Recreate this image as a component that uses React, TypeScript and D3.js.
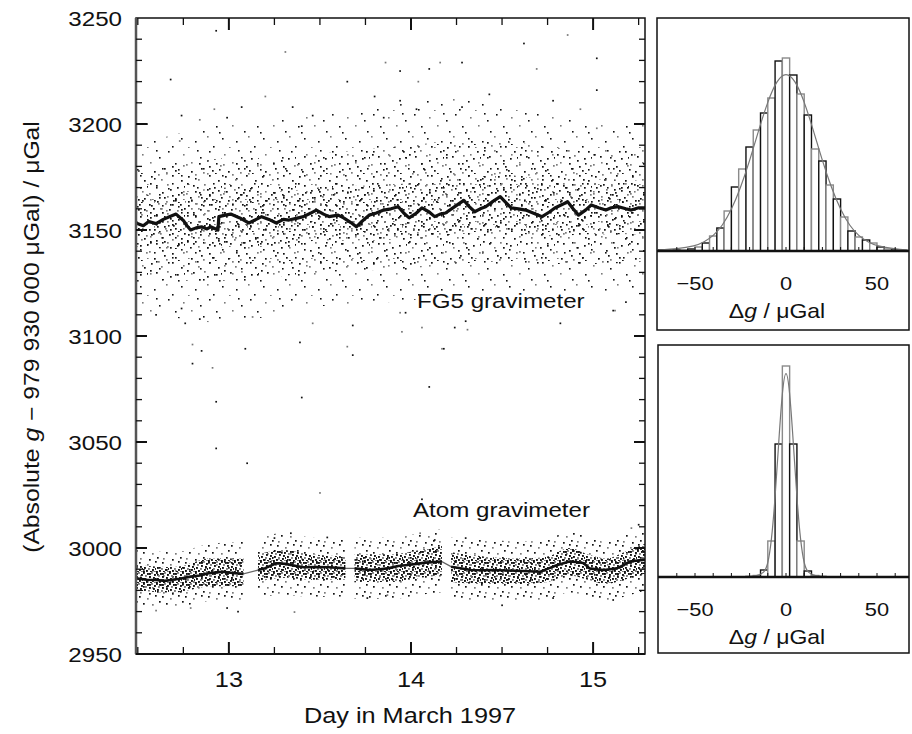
import * as d3 from 'd3';
import React from 'react';

// ---- main panel data (day in March 1997, µGal above 979 930 000) ----
const yTickLabels = [2950, 3000, 3050, 3100, 3150, 3200, 3250];
const xTickLabels = [13, 14, 15];

// running mean of the FG5 record
const fg5Mean: [number, number][] = [
  [12.49, 3153.3], [12.53, 3152], [12.56, 3154], [12.6, 3153], [12.64, 3155], [12.68, 3156.5], [12.71, 3157.5],
  [12.75, 3154.5], [12.77, 3152], [12.79, 3150], [12.82, 3151], [12.85, 3151.5], [12.88, 3150.5], [12.9, 3151.5],
  [12.94, 3150], [12.945, 3156.3], [12.98, 3157], [13.01, 3157.5], [13.06, 3155.7], [13.11, 3153.3], [13.15, 3155],
  [13.18, 3156.3], [13.22, 3155], [13.26, 3153.3], [13.3, 3155], [13.33, 3154.7], [13.37, 3155.5], [13.41, 3156.3],
  [13.45, 3158], [13.48, 3159.4], [13.52, 3157.5], [13.55, 3156.3], [13.6, 3157], [13.63, 3155.7], [13.67, 3153.5],
  [13.7, 3151.5], [13.73, 3154], [13.77, 3157], [13.81, 3158], [13.85, 3159.4], [13.89, 3160], [13.93, 3161],
  [13.96, 3158], [13.99, 3155.7], [14.03, 3158], [14.06, 3160.4], [14.1, 3158.5], [14.13, 3156.3], [14.16, 3157.5],
  [14.19, 3158], [14.24, 3161], [14.29, 3164], [14.32, 3161], [14.35, 3158.6], [14.38, 3160], [14.41, 3161],
  [14.45, 3163.5], [14.49, 3165.7], [14.52, 3163], [14.55, 3160.4], [14.59, 3160], [14.63, 3159.4], [14.67, 3158],
  [14.72, 3156.3], [14.76, 3158.5], [14.79, 3160.4], [14.83, 3162], [14.86, 3163.4], [14.89, 3160], [14.92, 3157],
  [14.96, 3159.5], [14.99, 3161.8], [15.03, 3160.5], [15.07, 3159.4], [15.1, 3160.5], [15.14, 3161], [15.18, 3160],
  [15.21, 3159.4], [15.25, 3160.5], [15.285, 3160.4],
];

// spread of the FG5 cloud: [day, low, high], densest to sparsest
const fg5Core: [number, number, number][] = [
  [12.49, 3142, 3166], [12.75, 3141, 3168], [13.0, 3142, 3170], [13.25, 3142, 3168], [13.5, 3145, 3170],
  [13.75, 3145, 3171], [14.0, 3146, 3172], [14.25, 3148, 3174], [14.5, 3149, 3176], [14.75, 3147, 3174],
  [15.0, 3148, 3174], [15.285, 3148, 3173],
];
const fg5Mid: [number, number, number][] = [
  [12.49, 3128, 3178], [12.75, 3126, 3181], [13.0, 3126, 3184], [13.25, 3128, 3184], [13.5, 3130, 3186],
  [13.75, 3131, 3188], [14.0, 3132, 3190], [14.25, 3134, 3192], [14.5, 3135, 3192], [14.75, 3134, 3189],
  [15.0, 3134, 3188], [15.285, 3135, 3188],
];
const fg5Outer: [number, number, number][] = [
  [12.49, 3112, 3190], [12.75, 3108, 3196], [13.0, 3106, 3200], [13.25, 3110, 3202], [13.5, 3114, 3204],
  [13.75, 3115, 3207], [14.0, 3117, 3210], [14.25, 3119, 3212], [14.5, 3120, 3210], [14.75, 3120, 3204],
  [15.0, 3121, 3201], [15.285, 3122, 3200],
];
const fg5Outliers: [number, number][] = [
  [13.31, 3234], [12.68, 3221], [12.93, 3244], [12.92, 3207], [13.07, 3208], [13.35, 3208], [12.84, 3202],
  [12.74, 3204], [12.99, 3203], [12.73, 3192], [13.4, 3199], [13.46, 3204], [13.86, 3229], [13.94, 3225],
  [14.1, 3226], [14.16, 3229], [14.28, 3229], [14.62, 3238], [14.86, 3242], [15.02, 3231], [13.65, 3220],
  [14.04, 3220], [13.94, 3211], [14.28, 3208], [14.69, 3226], [15.02, 3216], [14.78, 3211], [14.93, 3207],
  [13.85, 3203], [14.43, 3214], [15.02, 3198], [14.03, 3207], [13.8, 3213], [12.8, 3096], [12.85, 3093],
  [13.39, 3097], [13.46, 3106], [12.74, 3113], [12.84, 3108], [13.13, 3109], [13.09, 3094], [12.8, 3087],
  [12.91, 3085], [12.93, 3069], [13.4, 3071], [13.65, 3095], [13.68, 3091], [14.1, 3076], [14.17, 3094],
  [12.93, 3047], [13.1, 3040], [13.5, 3026], [14.06, 3023], [13.68, 3105], [14.06, 3104], [14.24, 3104],
  [14.3, 3107], [13.95, 3102], [13.97, 3111], [14.82, 3106], [15.12, 3112], [15.18, 3116], [12.76, 3106],
  [13.94, 3111], [14.18, 3094], [15.11, 3112], [14.31, 3103], [12.6, 3110], [12.55, 3200], [13.2, 3213],
];

// running mean of the atom record, and the stretches with data
const atomMean: [number, number][] = [
  [12.49, 2985.7], [12.55, 2985], [12.6, 2984.9], [12.65, 2984.5], [12.68, 2984.9], [12.73, 2985.5],
  [12.79, 2986.5], [12.84, 2987], [12.88, 2988], [12.93, 2988.5], [12.97, 2988.8], [13.02, 2988.2],
  [13.08, 2987.8], [13.16, 2989.6], [13.2, 2990.5], [13.26, 2992.8], [13.31, 2992.5], [13.37, 2991.5],
  [13.41, 2990.9], [13.48, 2991], [13.55, 2990.9], [13.64, 2990.4], [13.69, 2990.4], [13.77, 2989.6],
  [13.83, 2990], [13.88, 2990.5], [13.93, 2991.5], [13.97, 2991.9], [14.03, 2992.5], [14.08, 2993.1],
  [14.17, 2993.6], [14.22, 2991.2], [14.28, 2990.3], [14.33, 2989.6], [14.4, 2989.5], [14.45, 2989.6],
  [14.52, 2989.4], [14.58, 2989.3], [14.65, 2989], [14.71, 2988.8], [14.76, 2990.5], [14.8, 2991.9],
  [14.87, 2993.6], [14.92, 2993.3], [14.95, 2992.8], [14.98, 2990.4], [15.03, 2989.8], [15.06, 2989.6],
  [15.13, 2990.4], [15.17, 2992], [15.2, 2993.6], [15.285, 2994.5],
];
const atomSegments: [number, number][] = [[12.49, 13.08], [13.16, 13.64], [13.69, 14.17], [14.22, 15.285]];

type Band = [number, number | null, number | null];
const atomCore: Band[] = [
  [12.49, 2980, 2992], [12.7, 2979, 2991], [12.9, 2982, 2995], [13.08, 2982, 2995], [13.12, null, null],
  [13.16, 2984, 2997], [13.3, 2986, 2999], [13.45, 2985, 2997], [13.64, 2985, 2996], [13.665, null, null],
  [13.69, 2984, 2997], [13.9, 2984, 2997], [14.05, 2986, 2999], [14.17, 2987, 3001], [14.195, null, null],
  [14.22, 2984, 2998], [14.4, 2983, 2996], [14.6, 2983, 2995], [14.75, 2984, 2996], [14.87, 2987, 3000],
  [14.97, 2985, 2997], [15.07, 2983, 2995], [15.17, 2985, 2998], [15.285, 2988, 3002],
];
const atomOuter: Band[] = [
  [12.49, 2973, 2999], [12.7, 2972, 2998], [12.9, 2975, 3002], [13.08, 2975, 3003], [13.12, null, null],
  [13.16, 2977, 3005], [13.3, 2978, 3007], [13.45, 2977, 3005], [13.64, 2977, 3004], [13.665, null, null],
  [13.69, 2976, 3005], [13.9, 2976, 3005], [14.05, 2978, 3007], [14.17, 2979, 3009], [14.195, null, null],
  [14.22, 2976, 3005], [14.4, 2975, 3004], [14.6, 2975, 3003], [14.75, 2976, 3004], [14.87, 2979, 3008],
  [14.97, 2977, 3005], [15.07, 2975, 3003], [15.17, 2977, 3006], [15.285, 2980, 3010],
];
const atomOutliers: [number, number][] = [
  [13.36, 2969.8], [13.05, 2970], [12.99, 2971.7], [12.79, 2971.7], [13.34, 3007], [13.25, 3004.7],
  [14.05, 3007], [14.13, 3003.8], [13.76, 2976.4], [13.87, 2977.8], [14.78, 2976.4], [15.11, 2975.5],
  [15.21, 3009.4], [14.3, 3004.7], [13.54, 3005], [12.6, 2970.5], [14.5, 2973], [15.25, 3011],
];

// ---- histograms (4 µGal bins, relative counts) ----
const fg5HistCenters = [-68, -64, -60, -56, -52, -48, -44, -40, -36, -32, -28, -24, -20, -16, -12, -8, -4, 0,
  4, 8, 12, 16, 20, 24, 28, 32, 36, 40, 44, 48, 52, 56, 60, 64];
const fg5HistCounts = [1, 1, 1, 1, 2, 4, 8, 15, 23, 40, 64, 82, 104, 121, 138, 153, 190, 193,
  176, 157, 136, 102, 90, 66, 52, 34, 20, 14, 11, 8, 4, 2, 1, 1];
const fg5FitX = [-70, -60, -50, -45, -40, -35, -30, -25, -20, -15, -10, -5, 0, 5, 10, 15, 20, 25, 30, 35, 40, 45, 50, 60, 67];
const fg5FitY = [1, 2, 5, 9, 15, 25, 41, 63, 90, 121, 150, 171, 179, 171, 150, 121, 90, 63, 41, 25, 15, 9, 5, 2, 1];

const atomHistCenters = [-20, -16, -12, -8, -4, 0, 4, 8, 12, 16, 20];
const atomHistCounts = [0.5, 1.5, 7, 36, 133, 211, 133, 36, 6, 1.5, 0.5];
const atomFitX = [-22, -16, -12, -10, -8, -6, -4, -2, 0, 2, 4, 6, 8, 10, 12, 16, 22];
const atomFitY = [0, 1, 4, 12, 35, 78, 135, 188, 211, 188, 135, 78, 35, 12, 4, 1, 0];
const histTickLabels = [-50, 0, 50];

// stipple tiles used to render the dense parts of the clouds: [x, y, grey?]
const fg5CoreDots = [[2, 1, 0], [10, 3, 1], [18, 0, 0], [25, 4, 0], [5, 8, 1], [14, 9, 0], [22, 10, 1], [29, 8, 0],
  [1, 15, 0], [9, 16, 0], [17, 14, 1], [26, 17, 0], [4, 22, 0], [12, 21, 1], [20, 23, 0], [28, 24, 1], [7, 12, 0],
  [23, 19, 0], [15, 4, 0], [30, 1, 1]];
const fg5MidDots = [[3, 2, 0], [13, 5, 1], [24, 1, 0], [33, 6, 0], [8, 11, 0], [19, 10, 1], [29, 13, 0], [1, 19, 1],
  [14, 18, 0], [24, 21, 0], [35, 20, 1], [6, 26, 0], [18, 27, 1], [30, 28, 0], [10, 0, 1], [22, 15, 0], [36, 12, 0],
  [27, 25, 0], [2, 9, 0], [16, 23, 0]];
const fg5OuterDots = [[4, 3, 0], [19, 6, 1], [33, 2, 0], [11, 15, 0], [27, 14, 1], [39, 20, 0], [2, 25, 1], [17, 27, 0],
  [31, 30, 0], [8, 35, 0], [24, 36, 1], [36, 9, 0], [14, 21, 0]];
const atomCoreDots = [[0, 0, 0], [4, 1, 0], [8, 0, 1], [11, 2, 0], [2, 3, 1], [6, 4, 0], [10, 5, 0], [1, 6, 0], [5, 7, 1],
  [9, 8, 0], [12, 7, 0], [3, 9, 0], [7, 10, 0], [11, 10, 1], [0, 10, 0], [6, 1, 0]];
const atomOuterDots = [[1, 1, 0], [9, 3, 1], [17, 0, 0], [5, 8, 0], [14, 9, 1], [21, 6, 0], [2, 14, 1], [11, 15, 0], [19, 13, 0]];

const FONT = '"Liberation Sans", Arial, Helvetica, sans-serif';
const INK = '#111';
const SX = 1.15; // wide lettering of the original

const Txt = ({ x, y, size, anchor = 'middle', rotate = 0, children }: any) => (
  <text transform={`translate(${x},${y}) rotate(${rotate}) scale(${SX},1)`} fontSize={size}
    textAnchor={anchor} fontFamily={FONT} fill={INK}>{children}</text>
);

const Stipple = ({ id, w, h, dots, size }: any) => (
  <pattern id={id} patternUnits="userSpaceOnUse" width={w} height={h}>
    {dots.map((d: number[], i: number) => (
      <rect key={i} x={d[0]} y={d[1]} width={size} height={size} fill={d[2] ? '#7a7a7a' : '#111'} />
    ))}
  </pattern>
);

const Histogram = ({ box, base, centers, counts, fitX, fitY, top }: any) => {
  const [left, upper, right, lower] = box;
  const hx = d3.scaleLinear().domain([0, 50]).range([786, 877]);
  const hy = d3.scaleLinear().domain([0, top]).range([base, upper]);
  const fit = d3.line<number>().x((_, i) => hx(fitX[i])).y((v) => hy(v)).curve(d3.curveBasis);
  const ticks = d3.range(-70, 70, 10).filter((t) => hx(t) > left + 2 && hx(t) < right - 2);
  return (
    <g>
      <rect x={left} y={upper} width={right - left} height={lower - upper} fill="none" stroke={INK} strokeWidth={1.5} />
      {centers.map((c: number, i: number) => (
        <rect key={i} x={hx(c - 2)} y={hy(counts[i])} width={hx(c + 2) - hx(c - 2)} height={base - hy(counts[i])}
          fill="#fff" stroke={i % 2 ? '#8a8a8a' : INK} strokeWidth={1.4} />
      ))}
      <path d={fit(fitY) || ''} fill="none" stroke="#777" strokeWidth={1.2} />
      <line x1={left} x2={right} y1={base} y2={base} stroke={INK} strokeWidth={2.5} />
      {ticks.map((t) => (
        <line key={t} x1={hx(t)} x2={hx(t)} y1={base} y2={base - 4} stroke={INK} strokeWidth={1} />
      ))}
      {histTickLabels.map((t) => (
        <Txt key={t} x={hx(t)} y={base + 39} size={19}>{t < 0 ? `\u2212${-t}` : t}</Txt>
      ))}
      <Txt x={777} y={base + 67} size={20}>Δ<tspan fontStyle="italic">g</tspan> / μGal</Txt>
    </g>
  );
};

export default function App() {
  const x = d3.scaleLinear().domain([12.49, 15.285]).range([136, 645]);
  const y = d3.scaleLinear().domain([2950, 3250]).range([654, 18]);
  const [L, R, T, B] = [136, 645, 18, 654];

  const band = d3.area<any>().defined((d) => d[1] != null).x((d) => x(d[0])).y0((d) => y(d[1])).y1((d) => y(d[2]))
    .curve(d3.curveMonotoneX);
  const line = d3.line<[number, number]>().x((d) => x(d[0])).y((d) => y(d[1]));

  const yMinor = d3.range(2960, 3250, 10);
  const xMinor = d3.range(12.5, 15.28, 0.25);

  return (
    <svg width={912} height={734} style={{ position: 'absolute', left: 0, top: 0, background: '#fff' }}>
      <defs>
        <clipPath id="plot"><rect x={L} y={T} width={R - L} height={B - T} /></clipPath>
        <Stipple id="fg5Core" w={31} h={25} dots={fg5CoreDots} size={1.7} />
        <Stipple id="fg5Mid" w={37} h={29} dots={fg5MidDots} size={1.7} />
        <Stipple id="fg5Outer" w={41} h={37} dots={fg5OuterDots} size={1.6} />
        <Stipple id="atomCore" w={13} h={11} dots={atomCoreDots} size={1.9} />
        <Stipple id="atomOuter" w={23} h={17} dots={atomOuterDots} size={1.7} />
      </defs>

      <g clipPath="url(#plot)">
        <path d={band(fg5Outer) || ''} fill="url(#fg5Outer)" />
        <path d={band(fg5Mid) || ''} fill="url(#fg5Mid)" />
        <path d={band(fg5Core) || ''} fill="url(#fg5Core)" />
        {fg5Outliers.map((d, i) => (
          <rect key={i} x={x(d[0]) - 0.8} y={y(d[1]) - 0.8} width={1.7} height={1.7} fill={i % 3 ? INK : '#777'} />
        ))}
        <path d={line(fg5Mean) || ''} fill="none" stroke={INK} strokeWidth={3.2} strokeLinejoin="round" />

        <path d={band(atomOuter) || ''} fill="url(#atomOuter)" />
        <path d={band(atomCore) || ''} fill="url(#atomCore)" />
        {atomOutliers.map((d, i) => (
          <rect key={i} x={x(d[0]) - 0.8} y={y(d[1]) - 0.8} width={1.7} height={1.7} fill={i % 3 ? INK : '#777'} />
        ))}
        <path d={line(atomMean) || ''} fill="none" stroke="#666" strokeWidth={1.3} />
        {atomSegments.map(([a, b], i) => (
          <path key={i} d={line(atomMean.filter((d) => d[0] >= a && d[0] <= b)) || ''} fill="none" stroke={INK}
            strokeWidth={2.6} strokeLinejoin="round" />
        ))}
      </g>

      {/* frame and ticks */}
      <rect x={L} y={T} width={R - L} height={B - T} fill="none" stroke={INK} strokeWidth={1.5} />
      <line x1={L} x2={L} y1={T} y2={B} stroke="#555" strokeWidth={2.5} />
      <line x1={L} x2={R} y1={B} y2={B} stroke={INK} strokeWidth={2.2} />
      {yMinor.map((v) => {
        const major = v % 50 === 0;
        const len = major ? 11 : 6;
        return (
          <g key={v}>
            <line x1={L} x2={L + len} y1={y(v)} y2={y(v)} stroke={INK} strokeWidth={major ? 2 : 1.3} />
            <line x1={R} x2={R - len} y1={y(v)} y2={y(v)} stroke={INK} strokeWidth={major ? 2 : 1.3} />
          </g>
        );
      })}
      {xMinor.map((d) => {
        const major = Math.abs(d - Math.round(d)) < 1e-6;
        const len = major ? 12 : 7;
        return (
          <g key={d}>
            <line x1={x(d)} x2={x(d)} y1={B} y2={B - len} stroke={INK} strokeWidth={major ? 2 : 1.3} />
            <line x1={x(d)} x2={x(d)} y1={T} y2={T + len} stroke={INK} strokeWidth={major ? 2 : 1.3} />
          </g>
        );
      })}
      {yTickLabels.map((v) => (
        <Txt key={v} x={122} y={y(v) + 7.5} size={21} anchor="end">{v}</Txt>
      ))}
      {xTickLabels.map((d) => (
        <Txt key={d} x={x(d)} y={687} size={22}>{d}</Txt>
      ))}
      <Txt x={410} y={723} size={22}>Day in March 1997</Txt>
      <Txt x={39} y={337} size={21.5} rotate={-90}>
        (Absolute <tspan fontStyle="italic">g</tspan> − 979 930 000 μGal) / μGal
      </Txt>
      <Txt x={417} y={308} size={21} anchor="start">FG5 gravimeter</Txt>
      <Txt x={413} y={517} size={21} anchor="start">Atom gravimeter</Txt>

      <Histogram box={[657, 18, 909, 330]} base={251} top={233} centers={fg5HistCenters} counts={fg5HistCounts}
        fitX={fg5FitX} fitY={fg5FitY} />
      <Histogram box={[658, 345, 909, 653]} base={577} top={232} centers={atomHistCenters} counts={atomHistCounts}
        fitX={atomFitX} fitY={atomFitY} />
    </svg>
  );
}
